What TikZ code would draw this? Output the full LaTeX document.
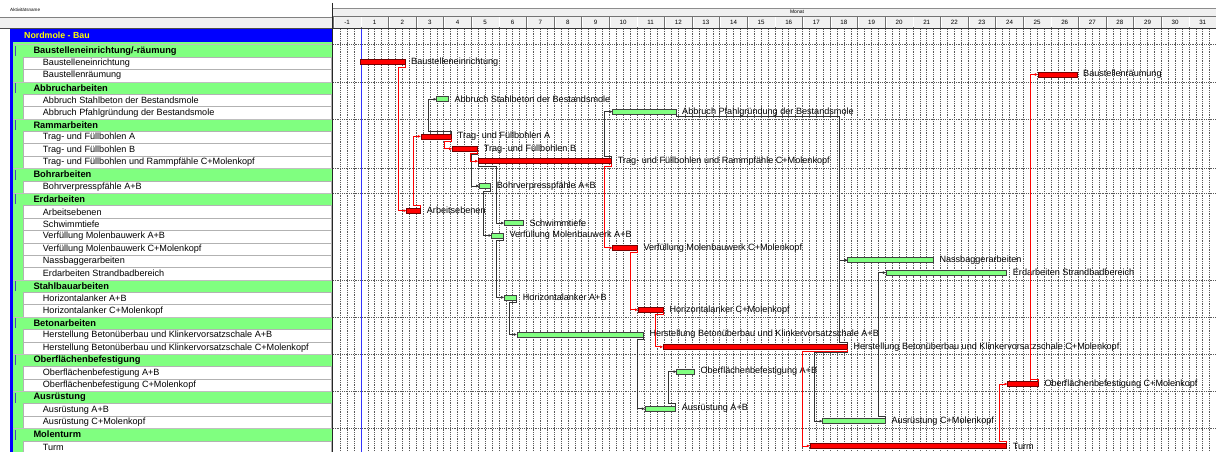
\documentclass[tikz,border=0pt]{standalone}
\usepackage{fontspec}
\setmainfont{Liberation Sans}
\usetikzlibrary{arrows.meta,calc}
\definecolor{grp}{RGB}{128,255,128}
\definecolor{ttl}{RGB}{0,0,255}
\definecolor{ylw}{RGB}{255,255,0}
\definecolor{rbarc}{RGB}{255,0,0}
\definecolor{hdr}{RGB}{240,240,240}
\newcommand\ry[1]{88+(#1-5)*12.38}
\newcommand\lblf{\fontsize{9.1}{10}\selectfont}
\tikzset{
  gridl/.style={black!65, line width=0.45pt, dash pattern=on 0.9pt off 0.9pt},
  rbar/.style={draw=red!45!black, fill=rbarc, line width=0.6pt, minimum height=5pt, inner sep=0pt, outer sep=0pt, anchor=west},
  gbar/.style={draw=black!75, fill=grp, line width=0.6pt, minimum height=5pt, inner sep=0pt, outer sep=0pt, anchor=west},
  barlbl/.style={anchor=west, inner sep=0pt, font=\lblf},
  itemlbl/.style={anchor=west, inner sep=0pt, font=\lblf},
  grplbl/.style={anchor=west, inner sep=0pt, font=\fontsize{9.3}{10}\selectfont\bfseries},
  rlink/.style={draw=red, line width=0.8pt, -{Latex[length=3.2pt,width=3pt]}},
  blink/.style={draw=black!80, line width=0.6pt, -{Latex[length=3.2pt,width=3pt]}},
}
% task bar: style, name, row, x0, x1, label
\newcommand\taskbar[6]{%
  \node[#1, minimum width={(#5-#4)*1pt}] (#2) at ({#4},{\ry{#3}-1.1}) {};
  \node[barlbl] (#2t) at ({#5+6},{\ry{#3}-1.1}) {#6};}
\newcommand\lkdn[3][blink]{\draw[#1] (#2.south east) -- ++(0,2.5) -| ($(#3.west)+(-8,0)$) -- (#3.west);}
\newcommand\lkup[3][blink]{\draw[#1] (#2.north east) -- ++(0,-2.5) -| ($(#3.west)+(-8,0)$) -- (#3.west);}
\newcommand\grprow[2]{% group row
  \fill[grp] (13,{\ry{#1}-6.19}) rectangle (332,{\ry{#1}+6.19});
  \draw[black!25, line width=0.4pt] (13,{\ry{#1}-6.19}) -- (332,{\ry{#1}-6.19});
  \fill[blue!45!gray] (15,{\ry{#1}-5}) rectangle (16,{\ry{#1}+5});
  \node[grplbl] (g#1) at (33.3,{\ry{#1}}) {#2};}
\newcommand\itmrow[2]{% item row
  \filldraw[fill=white, draw=black!30, line width=0.5pt] (23,{\ry{#1}-6.19}) rectangle (331,{\ry{#1}+6.19});
  \node[itemlbl] (i#1) at (42.7,{\ry{#1}}) {#2};}
\begin{document}
\begin{tikzpicture}[x=1pt,y=-1pt]
\useasboundingbox (0,0) rectangle (1216,452);
\fill[white] (0,0) rectangle (1216,452);
% ---------- left header
\fill[hdr] (0,17) rectangle (332,28.5);
\draw[black!50, line width=0.5pt] (0,17) -- (332,17);
\draw[black!70, line width=0.6pt] (0,28.5) -- (332,28.5);
\node[anchor=west, inner sep=0pt, font=\fontsize{4.6}{5}\selectfont] (acthdr) at (10,9.5) {Aktivitätsname};
% ---------- chart header
\fill[hdr] (333,8) rectangle (1216,16.5);
\draw[black!45, line width=0.5pt] (333,8) -- (1216,8);
\node[inner sep=0pt, font=\fontsize{5}{6}\selectfont] (monat) at (797,11.5) {Monat};
\foreach \n [count=\i from 0] in {-1,1,2,...,31} {
  \filldraw[fill=hdr, draw=black!55, line width=0.5pt] ({333.3+\i*27.6},16.5) rectangle ({333.3+(\i+1)*27.6},28.5);
  \draw[white, line width=0.6pt] ({333.3+\i*27.6+0.8},17.5) -- ({333.3+\i*27.6+0.8},27.5);
  \node[inner sep=0pt, font=\fontsize{6.2}{7}\selectfont] (m\i) at ({333.3+\i*27.6+13.8},22.7) {\n};
}
\draw[black!80, line width=0.7pt] (333,28.5) -- (1216,28.5);
% ---------- left table body
\fill[grp] (13,42.5) rectangle (332,452);
\fill[ttl] (10,29) rectangle (332,42.5);
\fill[ttl] (10,42.5) rectangle (13,452);
\node[anchor=west, inner sep=0pt, font=\fontsize{8.8}{10}\selectfont\bfseries, text=ylw] (title) at (24,35.8) {Nordmole - Bau};
\grprow{2}{Baustelleneinrichtung/-räumung}
\itmrow{3}{Baustelleneinrichtung}
\itmrow{4}{Baustellenräumung}
\grprow{5}{Abbrucharbeiten}
\itmrow{6}{Abbruch Stahlbeton der Bestandsmole}
\itmrow{7}{Abbruch Pfahlgründung der Bestandsmole}
\grprow{8}{Rammarbeiten}
\itmrow{9}{Trag- und Füllbohlen A}
\itmrow{10}{Trag- und Füllbohlen B}
\itmrow{11}{Trag- und Füllbohlen und Rammpfähle C+Molenkopf}
\grprow{12}{Bohrarbeiten}
\itmrow{13}{Bohrverpresspfähle A+B}
\grprow{14}{Erdarbeiten}
\itmrow{15}{Arbeitsebenen}
\itmrow{16}{Schwimmtiefe}
\itmrow{17}{Verfüllung Molenbauwerk A+B}
\itmrow{18}{Verfüllung Molenbauwerk C+Molenkopf}
\itmrow{19}{Nassbaggerarbeiten}
\itmrow{20}{Erdarbeiten Strandbadbereich}
\grprow{21}{Stahlbauarbeiten}
\itmrow{22}{Horizontalanker A+B}
\itmrow{23}{Horizontalanker C+Molenkopf}
\grprow{24}{Betonarbeiten}
\itmrow{25}{Herstellung Betonüberbau und Klinkervorsatzschale A+B}
\itmrow{26}{Herstellung Betonüberbau und Klinkervorsatzschale C+Molenkopf}
\grprow{27}{Oberflächenbefestigung}
\itmrow{28}{Oberflächenbefestigung A+B}
\itmrow{29}{Oberflächenbefestigung C+Molenkopf}
\grprow{30}{Ausrüstung}
\itmrow{31}{Ausrüstung A+B}
\itmrow{32}{Ausrüstung C+Molenkopf}
\grprow{33}{Molenturm}
\itmrow{34}{Turm}
% ---------- chart grid
\foreach \j in {1,...,127}
  \draw[gridl] ({333.3+\j*6.9},29) -- ({333.3+\j*6.9},452);
\foreach \k in {2,5,8,12,14,21,24,27,30,33}
  \draw[gridl] (333,{\ry{\k}-6.19}) -- (1216,{\ry{\k}-6.19});
\draw[blue!80, line width=0.5pt] (360.9,29) -- (360.9,452);
% separator
\draw[black!85, line width=1.3pt] (332.3,3) -- (332.3,452);
% ---------- bars
\taskbar{rbar}{b3}{3}{360}{405}{Baustelleneinrichtung}
\taskbar{rbar}{b4}{4}{1038}{1077}{Baustellenräumung}
\taskbar{gbar}{b6}{6}{436.7}{448.3}{Abbruch Stahlbeton der Bestandsmole}
\taskbar{gbar}{b7}{7}{612.7}{676}{Abbruch Pfahlgründung der Bestandsmole}
\taskbar{rbar}{b9}{9}{421}{451.7}{Trag- und Füllbohlen A}
\taskbar{rbar}{b10}{10}{452.3}{477.7}{Trag- und Füllbohlen B}
\taskbar{rbar}{b11}{11}{478.3}{611.7}{Trag- und Füllbohlen und Rammpfähle C+Molenkopf}
\taskbar{gbar}{b13}{13}{479.3}{490.7}{Bohrverpresspfähle A+B}
\taskbar{rbar}{b15}{15}{406.7}{420.7}{Arbeitsebenen}
\taskbar{gbar}{b16}{16}{504.3}{523.3}{Schwimmtiefe}
\taskbar{gbar}{b17}{17}{491.7}{503.3}{Verfüllung Molenbauwerk A+B}
\taskbar{rbar}{b18}{18}{612.7}{637.3}{Verfüllung Molenbauwerk C+Molenkopf}
\taskbar{gbar}{b19}{19}{847.7}{933.3}{Nassbaggerarbeiten}
\taskbar{gbar}{b20}{20}{886}{1006.7}{Erdarbeiten Strandbadbereich}
\taskbar{gbar}{b22}{22}{504.3}{516.7}{Horizontalanker A+B}
\taskbar{rbar}{b23}{23}{638.3}{663.3}{Horizontalanker C+Molenkopf}
\taskbar{gbar}{b25}{25}{517}{643.3}{Herstellung Betonüberbau und Klinkervorsatzschale A+B}
\taskbar{rbar}{b26}{26}{663.3}{847.3}{Herstellung Betonüberbau und Klinkervorsatzschale C+Molenkopf}
\taskbar{gbar}{b28}{28}{676.7}{694.3}{Oberflächenbefestigung A+B}
\taskbar{rbar}{b29}{29}{1007.7}{1038.3}{Oberflächenbefestigung C+Molenkopf}
\taskbar{gbar}{b31}{31}{645}{675.7}{Ausrüstung A+B}
\taskbar{gbar}{b32}{32}{822.7}{885.3}{Ausrüstung C+Molenkopf}
\taskbar{rbar}{b34}{34}{810}{1006.7}{Turm}
% ---------- links (non-critical)
\lkup{b9}{b6}
\lkup{b11}{b7}
\lkdn{b10}{b13}
\lkdn{b13}{b17}
\draw[blink] (b11.south west) -- ++(0,2.5) -| ($(b16.west)+(-8,0)$) -- (b16.west);
\lkdn{b17}{b22}
\lkdn{b22}{b25}
\lkdn{b25}{b31}
\lkup{b31}{b28}
\lkdn{b26}{b32}
\lkup{b26}{b19}
\lkdn{b7}{b19}
\lkup{b32}{b20}
% ---------- links (critical)
\lkdn[rlink]{b3}{b15}
\lkup[rlink]{b15}{b9}
\lkdn[rlink]{b9}{b10}
\lkdn[rlink]{b10}{b11}
\lkdn[rlink]{b11}{b18}
\lkdn[rlink]{b18}{b23}
\lkdn[rlink]{b23}{b26}
\lkdn[rlink]{b26}{b34}
\lkup[rlink]{b34}{b29}
\lkup[rlink]{b29}{b4}
\end{tikzpicture}
\end{document}
